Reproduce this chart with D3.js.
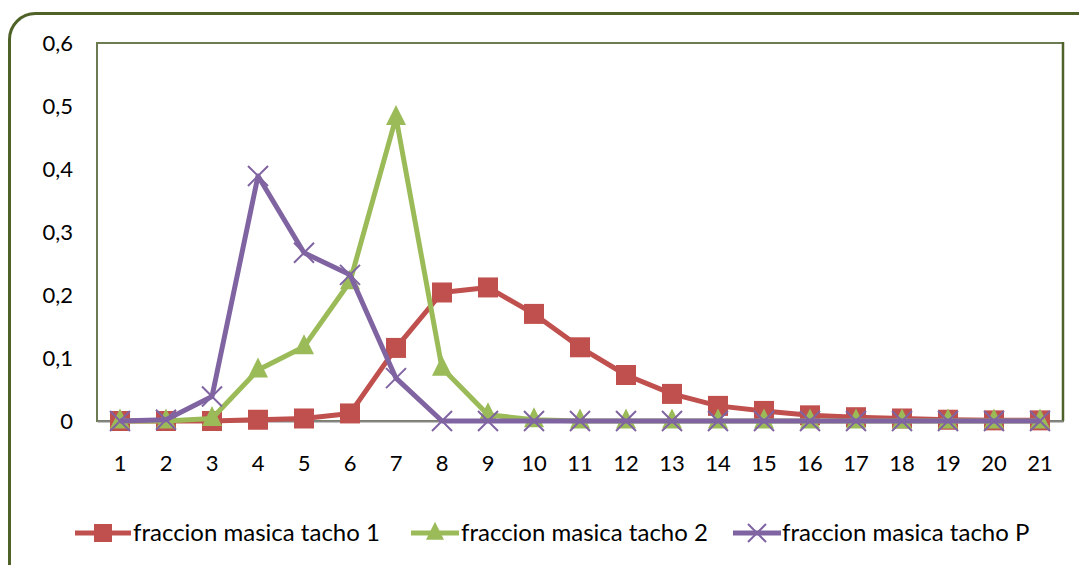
<!DOCTYPE html>
<html>
<head>
<meta charset="utf-8">
<script src="https://cdn.jsdelivr.net/npm/d3@7"></script>
<style>
  html, body { margin: 0; padding: 0; background: #fff; }
  svg { display: block; }
  text { font-family: Lato, "Open Sans", sans-serif; fill: #000; }
</style>
</head>
<body>
<svg id="chart" width="1079" height="565"></svg>
<script>
// Categories along the x axis
const categories = d3.range(1, 22).map(String);

// Series values (mass fraction per class)
const tacho1 = [0, 0, 0, 0.002, 0.004, 0.012, 0.116, 0.204, 0.212, 0.170, 0.117, 0.073, 0.043, 0.024, 0.016, 0.009, 0.006, 0.004, 0.002, 0.001, 0.001];
const tacho2 = [0, 0, 0.004, 0.081, 0.118, 0.221, 0.482, 0.084, 0.010, 0.002, 0, 0, 0, 0, 0, 0, 0, 0, 0, 0, 0];
const tachoP = [0, 0.002, 0.039, 0.389, 0.267, 0.232, 0.068, 0, 0, 0, 0, 0, 0, 0, 0, 0, 0, 0, 0, 0, 0];

const seriesNames = ["fraccion masica tacho 1", "fraccion masica tacho 2", "fraccion masica tacho P"];
const yTickValues = [0, 0.1, 0.2, 0.3, 0.4, 0.5, 0.6];
const yTickLabels = ["0", "0,1", "0,2", "0,3", "0,4", "0,5", "0,6"];

const series = [
  { name: seriesNames[0], values: tacho1, color: "#c0504d", marker: "square" },
  { name: seriesNames[1], values: tacho2, color: "#9bbb59", marker: "triangle" },
  { name: seriesNames[2], values: tachoP, color: "#8064a2", marker: "cross" }
];

const svg = d3.select("#chart");
const plot = { left: 97, top: 43, right: 1063, bottom: 421 };

const x = d3.scaleBand().domain(categories).range([plot.left, plot.right]);
const y = d3.scaleLinear().domain([0, 0.6]).range([plot.bottom, plot.top]);
const cx = c => x(c) + x.bandwidth() / 2;

// Outer rounded frame
svg.append("rect")
  .attr("x", 9.5).attr("y", 13.5)
  .attr("width", 1100).attr("height", 600)
  .attr("rx", 26).attr("ry", 26)
  .attr("fill", "#fff")
  .attr("stroke", "#4f6228")
  .attr("stroke-width", 3);

// Plot area frame
svg.append("rect")
  .attr("x", plot.left).attr("y", plot.top)
  .attr("width", plot.right - plot.left).attr("height", plot.bottom - plot.top)
  .attr("fill", "#fff")
  .attr("stroke", "#6d7b52")
  .attr("stroke-width", 2);
svg.append("line")
  .attr("x1", plot.right).attr("x2", plot.right)
  .attr("y1", plot.top - 1).attr("y2", plot.bottom)
  .attr("stroke", "#4f6228").attr("stroke-width", 2.5);

// Y axis labels
const yAxis = d3.axisLeft(y)
  .tickValues(yTickValues)
  .tickFormat((d, i) => yTickLabels[i])
  .tickSize(0)
  .tickPadding(24);
const gy = svg.append("g").attr("transform", `translate(${plot.left},0)`).call(yAxis);
gy.select(".domain").remove();
gy.selectAll("text").attr("font-size", 22).attr("font-family", "Lato, 'Open Sans', sans-serif").attr("fill", "#000");

// X axis labels
const xAxis = d3.axisBottom(x).tickSize(0).tickPadding(34);
const gx = svg.append("g").attr("transform", `translate(0,${plot.bottom})`).call(xAxis);
gx.select(".domain").attr("stroke", "#868686").attr("stroke-width", 2);
gx.selectAll("text").attr("font-size", 22).attr("font-family", "Lato, 'Open Sans', sans-serif").attr("fill", "#000");

// Marker drawing helper
function drawMarker(g, type, px, py, color, size) {
  if (type === "square") {
    g.append("rect")
      .attr("x", px - size / 2).attr("y", py - size / 2)
      .attr("width", size).attr("height", size)
      .attr("fill", color);
  } else if (type === "triangle") {
    const h = size * 1.0;
    g.append("path")
      .attr("d", `M${px},${py - h * 0.62}L${px + size / 2},${py + h * 0.38}L${px - size / 2},${py + h * 0.38}Z`)
      .attr("fill", color);
  } else {
    const s = size / 2;
    g.append("path")
      .attr("d", `M${px - s},${py - s}L${px + s},${py + s}M${px - s},${py + s}L${px + s},${py - s}`)
      .attr("stroke", color).attr("stroke-width", 2).attr("fill", "none");
  }
}

const line = d3.line().x((d, i) => cx(categories[i])).y(d => y(d));

series.forEach(s => {
  const g = svg.append("g");
  g.append("path")
    .datum(s.values)
    .attr("d", line)
    .attr("fill", "none")
    .attr("stroke", s.color)
    .attr("stroke-width", 5)
    .attr("stroke-linejoin", "round");
  s.values.forEach((v, i) => {
    drawMarker(g, s.marker, cx(categories[i]), y(v), s.color, 20);
  });
});

// Legend
const legendItems = [
  { x1: 75, x2: 131, tx: 133 },
  { x1: 411, x2: 459, tx: 461 },
  { x1: 733, x2: 781, tx: 782 }
];
const legendY = 533;
series.forEach((s, i) => {
  const li = legendItems[i];
  const g = svg.append("g");
  g.append("line")
    .attr("x1", li.x1).attr("x2", li.x2)
    .attr("y1", legendY).attr("y2", legendY)
    .attr("stroke", s.color).attr("stroke-width", 5);
  drawMarker(g, s.marker, (li.x1 + li.x2) / 2, legendY, s.color, 18);
  g.append("text")
    .attr("x", li.tx).attr("y", legendY)
    .attr("dy", "0.35em")
    .attr("font-size", 24)
    .text(s.name);
});
</script>
</body>
</html>
